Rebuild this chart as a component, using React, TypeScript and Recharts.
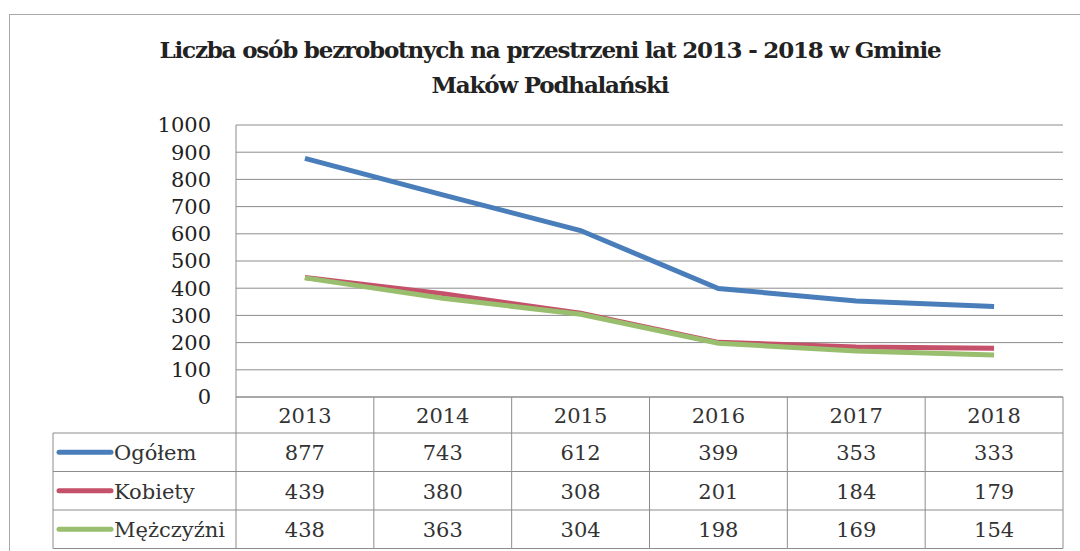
import React from 'react';
import { LineChart, Line, XAxis, YAxis, CartesianGrid } from 'recharts';

const years = ['2013', '2014', '2015', '2016', '2017', '2018'];
const ogolem = [877, 743, 612, 399, 353, 333];
const kobiety = [439, 380, 308, 201, 184, 179];
const mezczyzni = [438, 363, 304, 198, 169, 154];
const yTicks = [0, 100, 200, 300, 400, 500, 600, 700, 800, 900, 1000];
const seriesNames = ['Ogółem', 'Kobiety', 'Mężczyźni'];
const seriesKeys = ['ogolem', 'kobiety', 'mezczyzni'];
const seriesValues = [ogolem, kobiety, mezczyzni];
const seriesColors = ['#4A7EBB', '#C4506A', '#98BE6E'];
const titleLines = ['Liczba osób bezrobotnych na przestrzeni lat 2013 - 2018 w Gminie', 'Maków Podhalański'];

const data = years.map((y, i) => ({
  year: y,
  ogolem: ogolem[i],
  kobiety: kobiety[i],
  mezczyzni: mezczyzni[i],
}));

const W = 1080;
const H = 551;
const PLOT_LEFT = 236;
const PLOT_RIGHT = 1063;
const PLOT_TOP = 125;
const PLOT_BOTTOM = 397;
const BW = (PLOT_RIGHT - PLOT_LEFT) / years.length;
const HEADER_H = 36;
const ROW_H = 38.5;
const LEGEND_W = 183;
const FONT = "'DejaVu Serif', serif";
const TEXT_COLOR = '#333';
const BORDER = '#8c8c8c';

const TableTick = (props: any) => {
  const { x, y, payload, index } = props;
  const left = x - BW / 2;
  const right = x + BW / 2;
  const bottom = y + HEADER_H + ROW_H * 3;
  const els: any[] = [];
  els.push(
    <text key="yr" x={x} y={y + HEADER_H / 2 + 1} textAnchor="middle" dominantBaseline="central"
      fontFamily={FONT} fontSize={21} fill={TEXT_COLOR}>{payload.value}</text>
  );
  els.push(<line key="vr" x1={right} x2={right} y1={y} y2={bottom} stroke={BORDER} strokeWidth={1} />);
  const hLeft = index === 0 ? left - LEGEND_W : left;
  for (let r = 0; r <= 3; r++) {
    const yy = y + HEADER_H + ROW_H * r;
    els.push(<line key={'h' + r} x1={hLeft} x2={right} y1={yy} y2={yy} stroke={BORDER} strokeWidth={1} />);
  }
  seriesValues.forEach((vals, r) => {
    const cy = y + HEADER_H + ROW_H * (r + 0.5);
    els.push(
      <text key={'v' + r} x={x} y={cy + 1} textAnchor="middle" dominantBaseline="central"
        fontFamily={FONT} fontSize={21} fill={TEXT_COLOR}>{vals[index]}</text>
    );
  });
  if (index === 0) {
    els.push(<line key="vl" x1={left} x2={left} y1={y} y2={bottom} stroke={BORDER} strokeWidth={1} />);
    els.push(<line key="vll" x1={hLeft} x2={hLeft} y1={y + HEADER_H} y2={bottom} stroke={BORDER} strokeWidth={1} />);
    seriesNames.forEach((name, r) => {
      const cy = y + HEADER_H + ROW_H * (r + 0.5);
      els.push(
        <line key={'ls' + r} x1={hLeft + 6} x2={hLeft + 58} y1={cy} y2={cy}
          stroke={seriesColors[r]} strokeWidth={5} strokeLinecap="round" />
      );
      els.push(
        <text key={'ln' + r} x={hLeft + 61} y={cy + 1} textAnchor="start" dominantBaseline="central"
          fontFamily={FONT} fontSize={21} fill={TEXT_COLOR}>{name}</text>
      );
    });
  }
  return <g>{els}</g>;
};

export default function App() {
  return (
    <div style={{ position: 'absolute', left: 0, top: 0, width: W, height: H, background: '#fff', overflow: 'hidden' }}>
      <div style={{ position: 'absolute', left: 9, top: 14, width: W, height: H, borderLeft: '1.5px solid #a8a8a8', borderTop: '1.5px solid #a8a8a8' }} />
      <div style={{ position: 'absolute', left: 0, top: 32, width: 1100, textAlign: 'center', fontFamily: FONT, fontWeight: 'bold', fontSize: 23, lineHeight: '35px', color: '#222', letterSpacing: -1.2 }}>
        {titleLines.map((t, i) => <div key={i}>{t}</div>)}
      </div>
      <div style={{ position: 'absolute', left: 0, top: 0 }}>
        <LineChart width={W} height={H} data={data}
          margin={{ top: PLOT_TOP, right: W - PLOT_RIGHT, bottom: H - PLOT_BOTTOM - 152, left: PLOT_LEFT - 80 }}>
          <CartesianGrid horizontal vertical={false} stroke={BORDER} strokeWidth={1} />
          <YAxis domain={[0, 1000]} ticks={yTicks} interval={0} width={80} tickSize={0} tickMargin={25}
            axisLine={{ stroke: BORDER }} tickLine={false}
            tick={{ fontFamily: FONT, fontSize: 21, fill: '#222' }} />
          <XAxis dataKey="year" height={152} interval={0} tickSize={0} tickMargin={0}
            padding={{ left: BW / 2, right: BW / 2 }}
            axisLine={{ stroke: BORDER }} tickLine={false} tick={<TableTick />} />
          {seriesKeys.map((k, i) => (
            <Line key={k} dataKey={k} name={seriesNames[i]} type="linear" stroke={seriesColors[i]}
              strokeWidth={5} dot={false} isAnimationActive={false} />
          ))}
        </LineChart>
      </div>
    </div>
  );
}
